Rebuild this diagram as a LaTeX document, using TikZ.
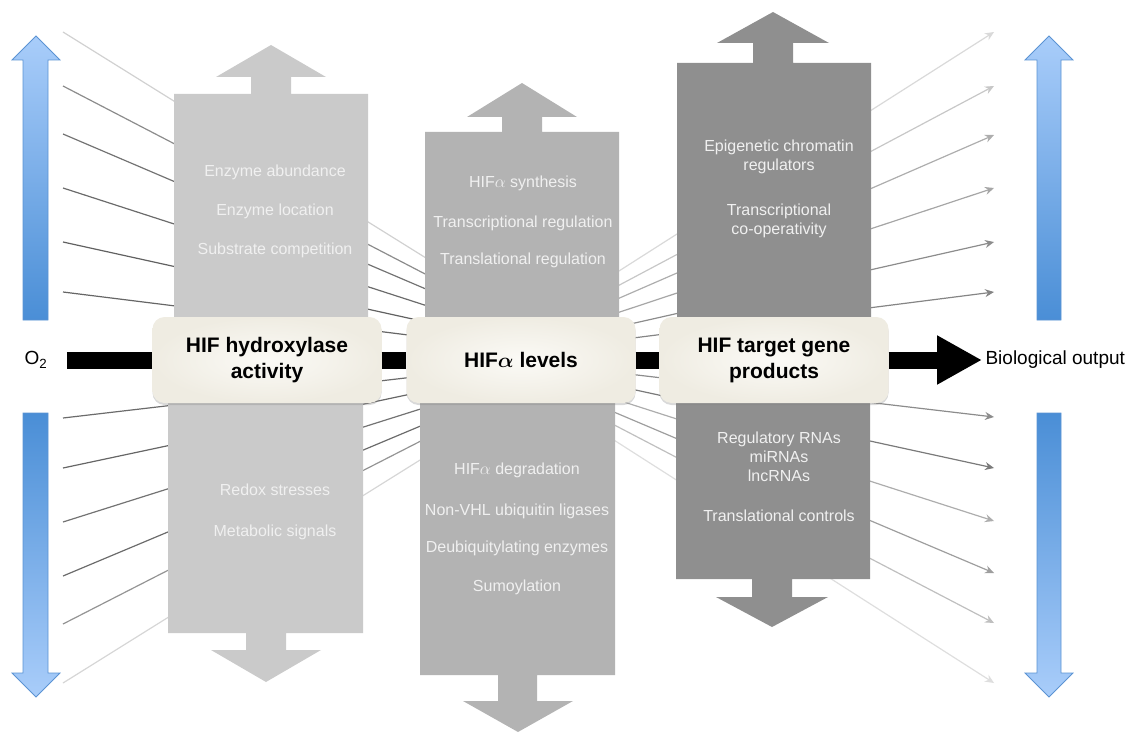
\documentclass[tikz,border=0pt]{standalone}
\usepackage{fontspec}
\setmainfont{Liberation Sans}
\usetikzlibrary{arrows.meta,positioning,shadows}

\definecolor{colone}{HTML}{CACACA}
\definecolor{coltwo}{HTML}{B3B3B3}
\definecolor{colthree}{HTML}{8F8F8F}
\definecolor{boxcream}{HTML}{EFECE2}
\definecolor{boxlight}{HTML}{FBFAF6}
\definecolor{bluelight}{HTML}{A9CDFA}
\definecolor{bluedark}{HTML}{4A8ED6}
\definecolor{blueedge}{HTML}{5B93D3}

\begin{document}
\begin{tikzpicture}[x=1pt, y=-1pt, node distance=39pt,
    coltext/.style={text=white!94!black, font=\fontsize{16}{19}\selectfont, align=center},
    hifbox/.style={rounded corners=12pt, inner color=boxlight, outer color=boxcream,
        minimum width=229pt, minimum height=86pt, align=center,
        font=\bfseries\fontsize{21}{26}\selectfont,
        drop shadow={shadow xshift=0pt, shadow yshift=-2pt, opacity=0.3}},
    fan/.style={line width=1.2pt},
    bar/.style={line width=17pt, black},
    bluearrow/.style={top color=bluelight, bottom color=bluedark, draw=blueedge, line width=0.8pt}]

    \useasboundingbox (0,0) rectangle (1129,733);

    % fans
    \coordinate (fl) at (585,357);
    \coordinate (fr) at (484,357);
    \foreach \y/\c [count=\i] in {32/18,86/45,134/55,188/58,242/62,292/60,418/58,468/60,522/55,576/58,624/42,683/16} {
        \coordinate (in\i) at (63,\y);
        \draw[fan, black!\c] (in\i) -- (fl);
    }
    \foreach \y/\c [count=\i] in {32/15,86/22,135/32,188/35,242/45,292/48,417/45,468/52,521/32,573/38,623/25,683/13} {
        \coordinate (eff\i) at (994,\y);
        \draw[fan, black!\c, -{Stealth[length=9pt,width=8pt,inset=3pt]}] (fr) -- (eff\i);
    }

    % blue arrows
    \shadedraw[bluearrow] (23,320) -- (23,60) -- (12,60) -- (36,36) -- (60,60) -- (48,60) -- (48,320) -- cycle;
    \shadedraw[bluearrow, top color=bluedark, bottom color=bluelight] (23,413) -- (23,673) -- (12,673) -- (36,697) -- (60,673) -- (48,673) -- (48,413) -- cycle;
    \shadedraw[bluearrow] (1037,320) -- (1037,60) -- (1025,60) -- (1049,36) -- (1073,60) -- (1061,60) -- (1061,320) -- cycle;
    \shadedraw[bluearrow, top color=bluedark, bottom color=bluelight] (1037,413) -- (1037,673) -- (1025,673) -- (1049,697) -- (1073,673) -- (1061,673) -- (1061,413) -- cycle;

    % columns
    \fill[colone] (174,340) -- (174,94) -- (251,94) -- (251,77) -- (216,77) -- (271,45) -- (326,77) -- (291,77) -- (291,94) -- (368,94) -- (368,340) -- cycle;
    \fill[colone] (168,380) -- (168,633) -- (246,633) -- (246,650) -- (211,650) -- (266,682) -- (321,650) -- (286,650) -- (286,633) -- (363,633) -- (363,380) -- cycle;
    \fill[coltwo] (425,340) -- (425,132) -- (502,132) -- (502,117) -- (467,117) -- (522,83) -- (577,117) -- (542,117) -- (542,132) -- (619,132) -- (619,340) -- cycle;
    \fill[coltwo] (420,380) -- (420,675) -- (498,675) -- (498,701) -- (463,701) -- (518,732) -- (573,701) -- (537,701) -- (537,675) -- (615,675) -- (615,380) -- cycle;
    \fill[colthree] (677,340) -- (677,63) -- (753,63) -- (753,43) -- (717,43) -- (773,12) -- (829,43) -- (793,43) -- (793,63) -- (871,63) -- (871,340) -- cycle;
    \fill[colthree] (676,380) -- (676,579) -- (752,579) -- (752,597) -- (716,597) -- (772,627) -- (828,597) -- (792,597) -- (792,579) -- (870,579) -- (870,380) -- cycle;

    % column texts
    \node[coltext] (ea) at (275,172) {Enzyme abundance};
    \node[coltext, below of=ea] (el) {Enzyme location};
    \node[coltext, below of=el] (sc) {Substrate competition};
    \node[coltext] (rs) at (275,490) {Redox stresses};
    \node[coltext, below of=rs, node distance=42pt] (ms) {Metabolic signals};

    \node[coltext] (hs) at (523,183) {HIF$\alpha$ synthesis};
    \node[coltext, below of=hs, node distance=40pt] (tr) {Transcriptional regulation};
    \node[coltext, below of=tr, node distance=37pt] (tl) {Translational regulation};
    \node[coltext] (hd) at (517,470) {HIF$\alpha$ degradation};
    \node[coltext, below of=hd, node distance=41pt] (nv) {Non-VHL ubiquitin ligases};
    \node[coltext, below of=nv, node distance=37pt] (du) {Deubiquitylating enzymes};
    \node[coltext, below of=du] (su) {Sumoylation};

    \node[coltext] (ec) at (779,157) {Epigenetic chromatin\\regulators};
    \node[coltext, below of=ec, node distance=64pt] (tc) {Transcriptional\\co-operativity};
    \node[coltext] (rr) at (779,457) {Regulatory RNAs\\miRNAs\\lncRNAs};
    \node[coltext, below of=rr, node distance=59pt] (tn) {Translational controls};

    % main pathway
    \node[font=\fontsize{19}{22}\selectfont] (o2) at (36,360) {O\textsubscript{2}};
    \node[hifbox] (hyd) at (267,360) {HIF hydroxylase\\activity};
    \node[hifbox] (lev) at (521,360) {HIF{\boldmath$\alpha$} levels};
    \node[hifbox] (tgt) at (774,360) {HIF target gene\\products};
    \node[font=\fontsize{19}{22}\selectfont, anchor=west] (bio) at (982,360) {Biological output};

    \draw[bar, shorten <=16pt] (o2) -- (hyd);
    \draw[bar] (hyd) -- (lev);
    \draw[bar] (lev) -- (tgt);
    \draw[bar, -{Triangle[length=45pt,width=46pt]}] (tgt) -- (bio);

\end{tikzpicture}
\end{document}
